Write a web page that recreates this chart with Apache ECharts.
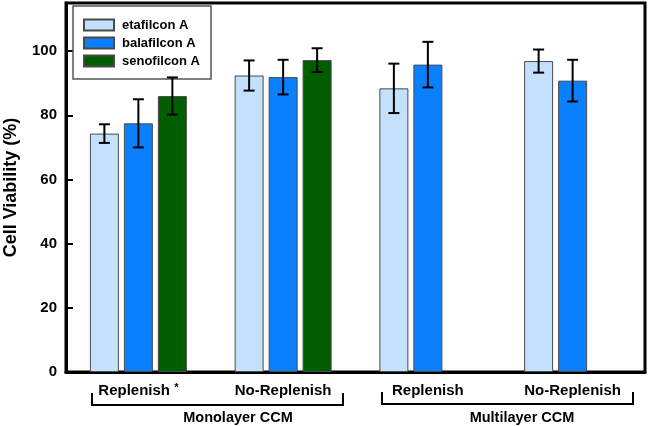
<!DOCTYPE html>
<html>
<head>
<meta charset="utf-8">
<script src="https://cdn.jsdelivr.net/npm/echarts@6/dist/echarts.min.js"></script>
<style>
  html, body { margin: 0; padding: 0; background: #fff; }
  #chart { width: 649px; height: 426px; }
</style>
</head>
<body>
<div id="chart"></div>
<script>
// data (mean and +/- error)
var categories = ['Replenish', 'No-Replenish', 'Replenish', 'No-Replenish'];
var groupNames = ['Monolayer CCM', 'Multilayer CCM'];
var seriesNames = ['etafilcon A', 'balafilcon A', 'senofilcon A'];
var etaMean = [74.3, 92.4, 88.4, 96.9];
var etaErr = [2.9, 4.7, 7.7, 3.6];
var balaMean = [77.5, 91.9, 95.8, 90.8];
var balaErr = [7.5, 5.4, 7.1, 6.5];
var senoMean = [86.0, 97.2, null, null];
var senoErr = [5.8, 3.7, null, null];
var yMax = 115;
var yInterval = 20;

var colors = ['#c3e1fc', '#0a80fd', '#005e00'];
var FONT = 'Liberation Sans, Arial, sans-serif';
var BAR_W = 29;
var BAR_STEP = 34; // bar width + gap

var chart = echarts.init(document.getElementById('chart'));

function barSeries(idx, means) {
  return {
    name: seriesNames[idx],
    type: 'bar',
    barWidth: BAR_W,
    barGap: ((BAR_STEP - BAR_W) / BAR_W * 100).toFixed(1) + '%',
    itemStyle: { color: colors[idx], borderColor: '#4a4a4a', borderWidth: 1 },
    data: means.map(function (v) { return v == null ? '-' : v; })
  };
}

function errorSeries(idx, means, errs) {
  var data = [];
  means.forEach(function (m, i) {
    if (m != null) data.push([i, m - errs[i], m + errs[i]]);
  });
  return {
    type: 'custom',
    silent: true,
    z: 5,
    data: data,
    encode: { x: 0, y: [1, 2] },
    renderItem: function (params, api) {
      var lo = api.coord([api.value(0), api.value(1)]);
      var hi = api.coord([api.value(0), api.value(2)]);
      var x = lo[0] + (idx - 1) * BAR_STEP;
      var cap = 5.5;
      var st = { stroke: '#000', lineWidth: 2 };
      return {
        type: 'group',
        children: [
          { type: 'line', shape: { x1: x, y1: hi[1], x2: x, y2: lo[1] }, style: st },
          { type: 'line', shape: { x1: x - cap, y1: hi[1], x2: x + cap, y2: hi[1] }, style: st },
          { type: 'line', shape: { x1: x - cap, y1: lo[1], x2: x + cap, y2: lo[1] }, style: st }
        ]
      };
    }
  };
}

var option = {
  animation: false,
  grid: {
    left: 66, right: 4, top: 3, bottom: 54,
    outerBoundsMode: 'none',
    show: true, borderColor: '#000', borderWidth: 3, backgroundColor: '#fff'
  },
  legend: {
    data: seriesNames,
    orient: 'vertical',
    left: 73, top: 6,
    padding: [12, 11, 11, 10],
    itemGap: 4,
    itemWidth: 30, itemHeight: 11,
    icon: 'rect',
    borderColor: '#555', borderWidth: 1.5,
    backgroundColor: '#fff',
    selectedMode: false,
    textStyle: { fontFamily: FONT, fontWeight: 'bold', fontSize: 13, color: '#000', lineHeight: 14, padding: [0, 0, 0, 3] }
  },
  xAxis: {
    type: 'category',
    data: categories,
    axisLine: { lineStyle: { color: '#000', width: 3 } },
    axisTick: { show: false },
    axisLabel: {
      interval: 0,
      margin: 10,
      lineHeight: 18,
      fontFamily: FONT, fontWeight: 'bold', fontSize: 15, color: '#000',
      formatter: function (val, i) { return i === 0 ? val + ' {sup|*}' : val; },
      rich: { sup: { fontSize: 11, fontWeight: 'bold', lineHeight: 11, verticalAlign: 'top' } }
    }
  },
  yAxis: {
    type: 'value',
    min: 0, max: yMax, interval: yInterval,
    name: 'Cell Viability (%)',
    nameLocation: 'middle',
    nameGap: 46,
    nameTextStyle: { fontFamily: FONT, fontWeight: 'bold', fontSize: 18, color: '#000' },
    splitLine: { show: false },
    axisLine: { show: true, lineStyle: { color: '#000', width: 3 } },
    axisTick: { show: true, inside: true, length: 7, lineStyle: { color: '#000', width: 2 } },
    axisLabel: {
      margin: 9,
      fontFamily: FONT, fontWeight: 'bold', fontSize: 15, color: '#000',
      formatter: function (v) { return v > 100 ? '' : v; }
    }
  },
  graphic: [
    {
      type: 'polyline', silent: true,
      shape: { points: [[92, 393], [92, 405], [343, 405], [343, 393]] },
      style: { stroke: '#000', lineWidth: 2, fill: null }
    },
    {
      type: 'polyline', silent: true,
      shape: { points: [[382, 392], [382, 404], [633, 404], [633, 392]] },
      style: { stroke: '#000', lineWidth: 2, fill: null }
    },
    {
      type: 'text', x: 238, y: 418, silent: true,
      style: { text: groupNames[0], fontFamily: FONT, fontWeight: 'bold', fontSize: 14.5, fill: '#000', align: 'center', verticalAlign: 'middle' }
    },
    {
      type: 'text', x: 522, y: 418, silent: true,
      style: { text: groupNames[1], fontFamily: FONT, fontWeight: 'bold', fontSize: 14.5, fill: '#000', align: 'center', verticalAlign: 'middle' }
    }
  ],
  series: [
    barSeries(0, etaMean),
    barSeries(1, balaMean),
    barSeries(2, senoMean),
    errorSeries(0, etaMean, etaErr),
    errorSeries(1, balaMean, balaErr),
    errorSeries(2, senoMean, senoErr)
  ]
};

chart.setOption(option);
</script>
</body>
</html>
